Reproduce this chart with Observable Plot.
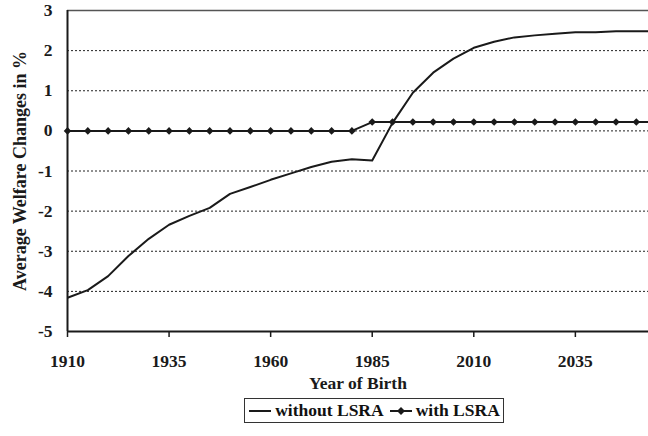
<!DOCTYPE html>
<html>
<head>
<meta charset="utf-8">
<script src="https://cdn.jsdelivr.net/npm/d3@7"></script>
<script src="https://cdn.jsdelivr.net/npm/@observablehq/plot@0.6"></script>
<style>
  html, body { margin: 0; padding: 0; background: #fff; }
  body { width: 648px; height: 436px; overflow: hidden; font-family: "Liberation Serif", "Times New Roman", serif; }
  #legend { display: flex; justify-content: center; margin-top: 1px; padding-left: 100px; }
  #legend .box { display: inline-flex; align-items: center; border: 1px solid #333; height: 23px; padding: 0 3px; font-weight: bold; font-size: 17.5px; color: #111; }
  #legend .item { display: inline-flex; align-items: center; margin-right: 5px; }
  #legend .item:last-child { margin-right: 0; }
  #legend svg { margin-right: 3px; }
</style>
</head>
<body>
<div id="chart"></div>
<div id="legend"></div>
<script>
const years = [1910,1915,1920,1925,1930,1935,1940,1945,1950,1955,1960,1965,1970,1975,1980,1985,1990,1995,2000,2005,2010,2015,2020,2025,2030,2035,2040,2045,2050,2055];
const withoutLSRA = [-4.16,-3.97,-3.62,-3.12,-2.69,-2.34,-2.12,-1.92,-1.57,-1.40,-1.22,-1.06,-0.90,-0.77,-0.71,-0.74,0.20,0.95,1.45,1.80,2.07,2.22,2.33,2.38,2.42,2.46,2.46,2.48,2.48,2.48];
const withLSRA = [0,0,0,0,0,0,0,0,0,0,0,0,0,0,0,0.22,0.22,0.22,0.22,0.22,0.22,0.22,0.22,0.22,0.22,0.22,0.22,0.22,0.22,0.22];
const xTicks = [1910,1935,1960,1985,2010,2035];
const yTicks = [-5,-4,-3,-2,-1,0,1,2,3];
const seriesNames = ["without LSRA", "with LSRA"];

const rowsA = years.map((y, i) => ({year: y, value: withoutLSRA[i]}));
const rowsB = years.map((y, i) => ({year: y, value: withLSRA[i]}));

const font = "'Liberation Serif', 'Times New Roman', serif";
const ink = "#1a1a1a";

const chart = Plot.plot({
  width: 648,
  height: 397,
  marginLeft: 67,
  marginRight: 0,
  marginTop: 10,
  marginBottom: 66,
  style: {fontFamily: font, fontSize: "17.5px", fontWeight: "bold", color: ink, background: "#fff"},
  x: {domain: [1910, 2053]},
  y: {domain: [-5, 3]},
  marks: [
    Plot.ruleY(yTicks.filter(d => d > -5 && d < 3), {stroke: "#222", strokeWidth: 1, strokeDasharray: "2,2"}),
    Plot.ruleY([3], {stroke: "#555", strokeWidth: 1.5}),
    Plot.axisY({ticks: yTicks, tickSize: 0, tickPadding: 15, tickFormat: d => String(d), label: null, fill: ink, fontFamily: font}),
    Plot.axisX({ticks: xTicks, tickSize: 6, tickPadding: 17, tickFormat: d => String(d), label: null, stroke: ink, strokeWidth: 1.5, fill: ink, fontFamily: font}),
    Plot.ruleY([-5], {stroke: ink, strokeWidth: 2}),
    Plot.ruleX([1910], {stroke: ink, strokeWidth: 2}),
    Plot.line(rowsA, {x: "year", y: "value", stroke: ink, strokeWidth: 2, clip: true}),
    Plot.line(rowsB, {x: "year", y: "value", stroke: ink, strokeWidth: 2, clip: true}),
    Plot.dot(rowsB, {x: "year", y: "value", symbol: "diamond2", r: 3.4, fill: ink, stroke: "none"}),
    Plot.text(["Year of Birth"], {frameAnchor: "bottom", dy: 57, fontSize: 17.5, fontWeight: "bold", fill: ink, fontFamily: font}),
    Plot.text(["Average Welfare Changes in %"], {frameAnchor: "left", textAnchor: "middle", dx: -47, rotate: -90, fontSize: 18, fontWeight: "bold", fill: ink, fontFamily: font})
  ]
});
document.getElementById("chart").appendChild(chart);

// Legend
const legend = d3.select("#legend").append("div").attr("class", "box");
seriesNames.forEach((name, i) => {
  const item = legend.append("span").attr("class", "item");
  const sw = item.append("svg").attr("width", 24).attr("height", 12);
  sw.append("line").attr("x1", 1).attr("x2", 23).attr("y1", 6).attr("y2", 6).attr("stroke", ink).attr("stroke-width", 2);
  if (i === 1) sw.append("path").attr("d", "M12,2L16,6L12,10L8,6Z").attr("fill", ink);
  item.append("span").text(name);
});
</script>
</body>
</html>
